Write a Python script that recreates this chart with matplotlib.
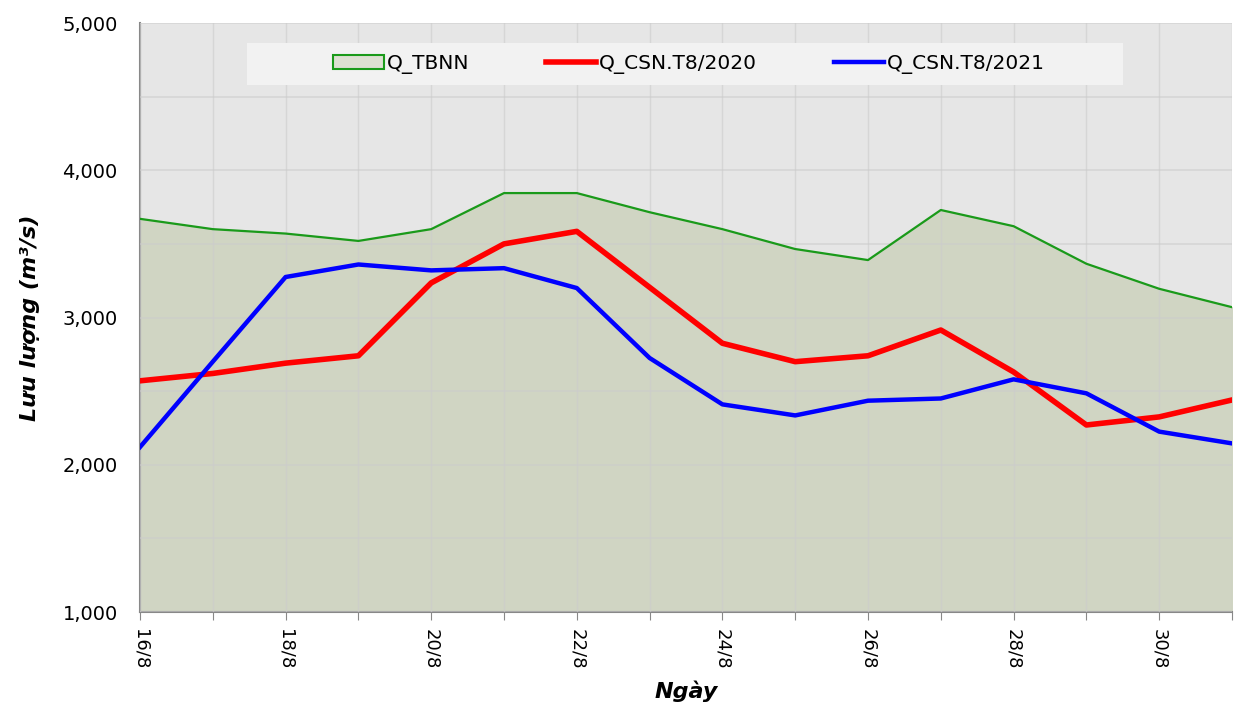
import numpy as np
import matplotlib.pyplot as plt
from matplotlib.patches import Patch, Rectangle
from matplotlib.lines import Line2D

days = list(range(16, 32))
tick_labels = [f"{d}/8" for d in days]

q_tbnn = [3670, 3600, 3570, 3520, 3600, 3845, 3845, 3715, 3600, 3465,
          3390, 3730, 3620, 3365, 3195, 3070]
q_2020 = [2570, 2620, 2690, 2740, 3235, 3500, 3585, 3205, 2825, 2700,
          2740, 2915, 2630, 2270, 2325, 2440]
q_2021 = [2120, 2700, 3275, 3360, 3320, 3335, 3200, 2725, 2410, 2335,
          2435, 2450, 2580, 2485, 2225, 2145]

fig = plt.figure(figsize=(12.36, 7.15), dpi=100)
ax = fig.add_axes([140/1236, (715-612)/715, (1232-140)/1236, (612-23)/715])
ax.set_facecolor("#e6e6e6")

x = np.arange(len(days))
ax.fill_between(x, 1000, q_tbnn, color="#d0d5c3", zorder=2)
ax.plot(x, q_tbnn, color="#1a9a1a", lw=1.6, zorder=3)
ax.plot(x, q_2020, color="#ff0000", lw=4, zorder=4)
ax.plot(x, q_2021, color="#0000ff", lw=3.2, zorder=5)

ax.set_xlim(0, len(days) - 1)
ax.set_ylim(1000, 5000)
ax.set_yticks(np.arange(1000, 5001, 1000))
ax.set_yticks(np.arange(1000, 5001, 500), minor=True)
ax.set_yticklabels([f"{v:,}" for v in range(1000, 5001, 1000)], fontsize=14)
ax.set_xticks(x)
ax.set_xticklabels([lbl if i % 2 == 0 else "" for i, lbl in enumerate(tick_labels)],
                   rotation=-90, fontsize=13)
ax.tick_params(axis="y", length=0, pad=16)
ax.tick_params(axis="y", which="minor", length=0)
ax.tick_params(axis="x", length=6, color="#888888", pad=6)

ax.grid(True, which="both", axis="y", color="#cccccc", lw=1.2, alpha=0.6, zorder=2.5)
ax.grid(True, axis="x", color="#cccccc", lw=1, alpha=0.6, zorder=2.5)
ax.set_axisbelow(False)
for s in ["top", "right"]:
    ax.spines[s].set_visible(False)
for s in ["left", "bottom"]:
    ax.spines[s].set_color("#888888")
    ax.spines[s].set_linewidth(1.5)

ax.set_xlabel("Ngày", fontsize=16, fontweight="bold", style="italic", labelpad=8)
ax.set_ylabel("Lưu lượng (m³/s)", fontsize=16, fontweight="bold", style="italic", labelpad=16)

# legend background box
ax.add_patch(Rectangle((0.098, 0.895), 0.802, 0.071, transform=ax.transAxes,
                       facecolor="#f2f2f2", edgecolor="none", zorder=9))

handles = [Patch(facecolor="#dde0d2", edgecolor="#1a9a1a", lw=1.5),
           Line2D([], [], color="#ff0000", lw=4),
           Line2D([], [], color="#0000ff", lw=3.2)]
leg = ax.legend(handles, ["Q_TBNN", "Q_CSN.T8/2020", "Q_CSN.T8/2021"],
                ncol=3, loc="center", bbox_to_anchor=(0.503, 0.930),
                fontsize=14.5, frameon=False, handlelength=2.5,
                handletextpad=0.15, columnspacing=3.8)
leg.set_zorder(10)

fig.savefig("out.png", dpi=100)
